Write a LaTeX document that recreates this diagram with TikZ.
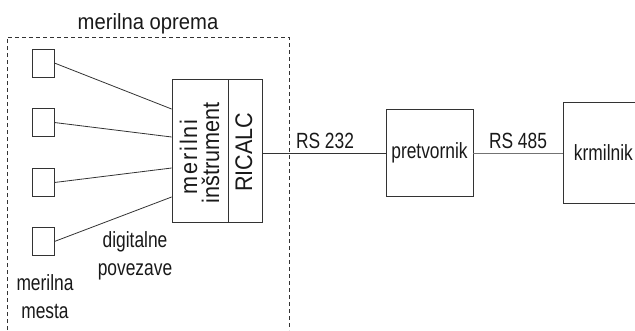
\documentclass[tikz,border=0pt]{standalone}
\usepackage{fontspec}
\setmainfont{Liberation Sans}[FakeStretch=0.79]
\newfontfamily\titlefont{Liberation Sans}[FakeStretch=0.92]
\newfontfamily\vertfont{Liberation Sans}[FakeStretch=0.9]
\newfontfamily\vertspaced{Liberation Sans}[FakeStretch=0.9,LetterSpace=8]
\begin{document}
\begin{tikzpicture}[x=1pt,y=-1pt,
  every node/.style={font=\fontsize{22}{26}\selectfont, text=black!90},
  wire/.style={draw=black!80, line width=0.8pt},
  box/.style={draw=black!80, line width=0.8pt, inner sep=0pt},
  sensor/.style={box, minimum width=22pt, minimum height=28pt},
  label/.style={anchor=base, inner sep=0pt},
  vlabel/.style={anchor=base, rotate=90, inner sep=0pt,
    font=\fontsize{24}{28}\selectfont\vertfont}]
\useasboundingbox (0,0) rectangle (635,330);

% measuring equipment frame (open at the bottom)
\draw[black!80, line width=0.8pt, dash pattern=on 4pt off 3pt]
  (7,330) -- (7,37) -- (289,37) -- (289,330);
\node[label, font=\fontsize{22}{26}\selectfont\titlefont] (title) at (148,29) {merilna oprema};

% measuring points
\node[sensor] (s1) at (43,63) {};
\node[sensor] (s2) at (43,122.5) {};
\node[sensor] (s3) at (43,182.5) {};
\node[sensor] (s4) at (43,241.5) {};

% measuring instrument, two sections
\node[box, minimum width=56pt, minimum height=143pt] (instL) at (200,150.5) {};
\node[box, minimum width=34pt, minimum height=143pt] (instR) at (245,150.5) {};
\node[vlabel, font=\fontsize{24}{28}\selectfont\vertspaced] (t1) at (197,157) {merilni};
\node[vlabel] (t2) at (219,153) {inštrument};
\node[vlabel] (t3) at (252,152) {RICALC};

% digital links
\draw[wire] (s1.east) -- ([yshift=41.5pt]instL.west);
\draw[wire] (s2.east) -- ([yshift=13.5pt]instL.west);
\draw[wire] (s3.east) -- ([yshift=-17.5pt]instL.west);
\draw[wire] (s4.east) -- ([yshift=-46.5pt]instL.west);

\node[label] (dig1) at (135,247) {digitalne};
\node[label] (dig2) at (135,275) {povezave};
\node[label] (mm1) at (45,290) {merilna};
\node[label] (mm2) at (45,318) {mesta};

% converter and controller
\node[box, minimum width=87pt, minimum height=87pt] (pret) at (429.5,153) {pretvornik};
\node[box, minimum width=80pt, minimum height=101pt, anchor=west] (krm) at (563,153) {krmilnik};

\draw[wire] (pret.west -| instR.east) -- (pret.west);
\draw[wire, draw=black!55] (pret.east) -- (krm.west);

\node[label] (rs232) at (325,148) {RS 232};
\node[label] (rs485) at (518,148) {RS 485};
\end{tikzpicture}
\end{document}
